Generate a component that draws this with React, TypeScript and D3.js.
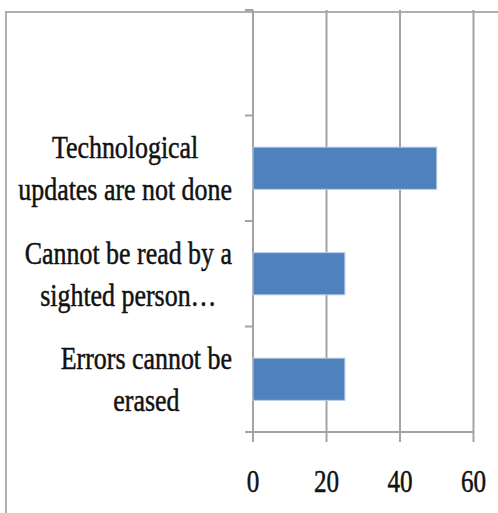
import React from "react";
import * as d3 from "d3";

const categories = ["", "Technological updates are not done", "Cannot be read by a sighted person…", "Errors cannot be erased"];
const labelLines = [[], ["Technological", "updates are not done"], ["Cannot be read by a", "sighted person…"], ["Errors cannot be", "erased"]];
const values = [0, 50, 25, 25];
const xTicks = [0, 20, 40, 60];

const W = 498;
const H = 513;
const FONT = "'Liberation Serif', 'Times New Roman', serif";
const FS = 32;
const SX = 0.81;

let ctx: CanvasRenderingContext2D | null = null;
function measure(t: string) {
  if (!ctx) ctx = document.createElement("canvas").getContext("2d");
  if (!ctx) return t.length * 12;
  ctx.font = `${FS}px ${FONT}`;
  return ctx.measureText(t).width * SX;
}

export default function App() {
  const x = d3.scaleLinear().domain([0, 60]).range([253, 473.5]);
  const y = d3.scaleBand<string>().domain(categories).range([10, 432]).padding(0);
  const step = y.step();
  const barH = step * 0.4;
  const boundaries = d3.range(categories.length + 1).map((i) => 10 + i * step);
  const labelRight = 232;
  const gridColor = "#a3a3a3";

  return (
    <svg width={W} height={H} style={{ position: "absolute", left: 0, top: 0, background: "#fff" }}>
      {/* outer border */}
      <line x1={5} x2={W} y1={12} y2={12} stroke="#b0b0b0" strokeWidth={2} />
      <line x1={6} x2={6} y1={11} y2={H} stroke="#b0b0b0" strokeWidth={2} />
      {/* gridlines */}
      {xTicks.map((t) => (
        <line key={"g" + t} x1={x(t)} x2={x(t)} y1={10} y2={442} stroke={gridColor} strokeWidth={2} />
      ))}
      {/* y ticks */}
      {boundaries.map((b, i) => (
        <line key={"yt" + i} x1={245} x2={253} y1={b} y2={b} stroke={gridColor} strokeWidth={2} />
      ))}
      {/* x axis */}
      <line x1={245} x2={x(60)} y1={432} y2={432} stroke={gridColor} strokeWidth={2} />
      {/* bars */}
      {categories.map((c, i) =>
        values[i] > 0 ? (
          <rect
            key={"b" + i}
            x={x(0)}
            y={(y(c) as number) + (step - barH) / 2}
            width={x(values[i]) - x(0)}
            height={barH}
            fill="#4F81BD"
            stroke="#b9cde5"
            strokeWidth={1}
          />
        ) : null
      )}
      {/* category labels */}
      {categories.map((c, i) => {
        const lines = labelLines[i];
        if (!lines.length) return null;
        const maxW = Math.max(...lines.map(measure));
        const cx = labelRight - maxW / 2;
        const cy = (y(c) as number) + step / 2;
        const lh = 42;
        return (
          <g key={"l" + i}>
            {lines.map((ln, j) => (
              <text
                key={j}
                transform={`translate(${cx},${cy + (j - (lines.length - 1) / 2) * lh + 11}) scale(${SX},1)`}
                textAnchor="middle"
                fontFamily={FONT}
                fontSize={FS}
                fill="#111"
                stroke="#111"
                strokeWidth={0.5}
              >
                {ln}
              </text>
            ))}
          </g>
        );
      })}
      {/* x tick labels */}
      {xTicks.map((t) => (
        <text
          key={"xl" + t}
          transform={`translate(${x(t)},${492}) scale(${SX},1)`}
          textAnchor="middle"
          fontFamily={FONT}
          fontSize={31}
          fill="#111"
          stroke="#111"
          strokeWidth={0.5}
        >
          {t}
        </text>
      ))}
    </svg>
  );
}
